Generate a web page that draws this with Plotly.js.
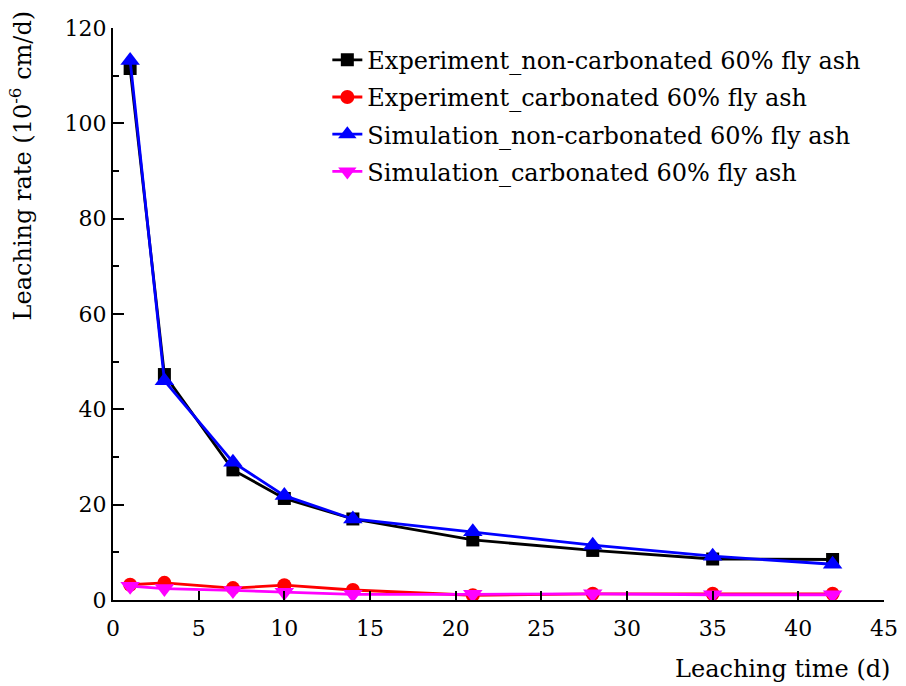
<!DOCTYPE html>
<html>
<head>
<meta charset="utf-8">
<script src="https://cdn.plot.ly/plotly-3.0.1.min.js"></script>
<style>html,body{margin:0;padding:0;background:#fff;}#chart{width:906px;height:686px;}</style>
</head>
<body>
<div id="chart"></div>
<script>
const days = [1, 3, 7, 10, 14, 21, 28, 35, 42];
const expNonCarb = [111.5, 47.3, 27.3, 21.3, 17.0, 12.6, 10.4, 8.6, 8.5];
const expCarb = [3.2, 3.6, 2.5, 3.1, 2.1, 1.0, 1.3, 1.3, 1.3];
const simNonCarb = [113.2, 46.0, 28.9, 21.9, 17.0, 14.3, 11.5, 9.2, 7.5];
const simCarb = [2.9, 2.4, 2.0, 1.6, 1.2, 1.2, 1.3, 1.1, 1.1];
const seriesNames = [
  "Experiment_non-carbonated 60% fly ash",
  "Experiment_carbonated 60% fly ash",
  "Simulation_non-carbonated 60% fly ash",
  "Simulation_carbonated 60% fly ash"
];
const xTitle = "Leaching time (d)";
const yTitle = "Leaching rate (10<sup>-6</sup> cm/d)";

const font = "DejaVu Serif";
function tr(y, name, color, symbol, size, g) {
  return {x: days, y: y, name: name, type: "scatter", mode: "lines+markers",
    legendgroup: g,
    line: {color: color, width: 2.8},
    marker: {color: color, symbol: symbol, size: size}};
}
const data = [
  tr(expNonCarb, seriesNames[0], "#000000", "square", 13, "a"),
  tr(expCarb, seriesNames[1], "#ff0000", "circle", 14, "b"),
  tr(simNonCarb, seriesNames[2], "#0000ff", "triangle-up", 17, "c"),
  tr(simCarb, seriesNames[3], "#ff00ff", "triangle-down", 17, "d")
];
const layout = {
  width: 906, height: 686,
  margin: {l: 113, r: 22, t: 28, b: 86},
  paper_bgcolor: "#fff", plot_bgcolor: "#fff",
  font: {family: font, size: 22, color: "#000"},
  showlegend: true,
  legend: {x: 0.278, xanchor: "left", y: 0.983, yanchor: "top",
    traceorder: "grouped", tracegroupgap: 3,
    font: {family: font, size: 24, color: "#000"}, bgcolor: "rgba(0,0,0,0)"},
  xaxis: {range: [0, 45], dtick: 5, tick0: 0, showgrid: false, zeroline: false,
    showline: true, linecolor: "#000", linewidth: 2,
    ticks: "inside", ticklen: 9, tickwidth: 2, tickcolor: "#000",
    ticklabelstandoff: 8,
    tickfont: {family: font, size: 22}},
  yaxis: {range: [0, 120], dtick: 20, tick0: 0, showgrid: false, zeroline: false,
    showline: true, linecolor: "#000", linewidth: 2,
    ticks: "inside", ticklen: 11, tickwidth: 2, tickcolor: "#000",
    minor: {dtick: 10, ticks: "inside", ticklen: 6, tickwidth: 2, tickcolor: "#000"},
    tickfont: {family: font, size: 22}},
  annotations: [
    {text: xTitle, xref: "paper", yref: "paper", x: 1.01, y: -0.092, xanchor: "right", yanchor: "top",
      showarrow: false, font: {family: font, size: 24}},
    {text: yTitle, xref: "paper", yref: "paper", x: -0.12, y: 1.035, xanchor: "center", yanchor: "top",
      textangle: -90, showarrow: false, font: {family: font, size: 24}}
  ]
};
Plotly.newPlot("chart", data, layout, {displayModeBar: false});
</script>
</body>
</html>
